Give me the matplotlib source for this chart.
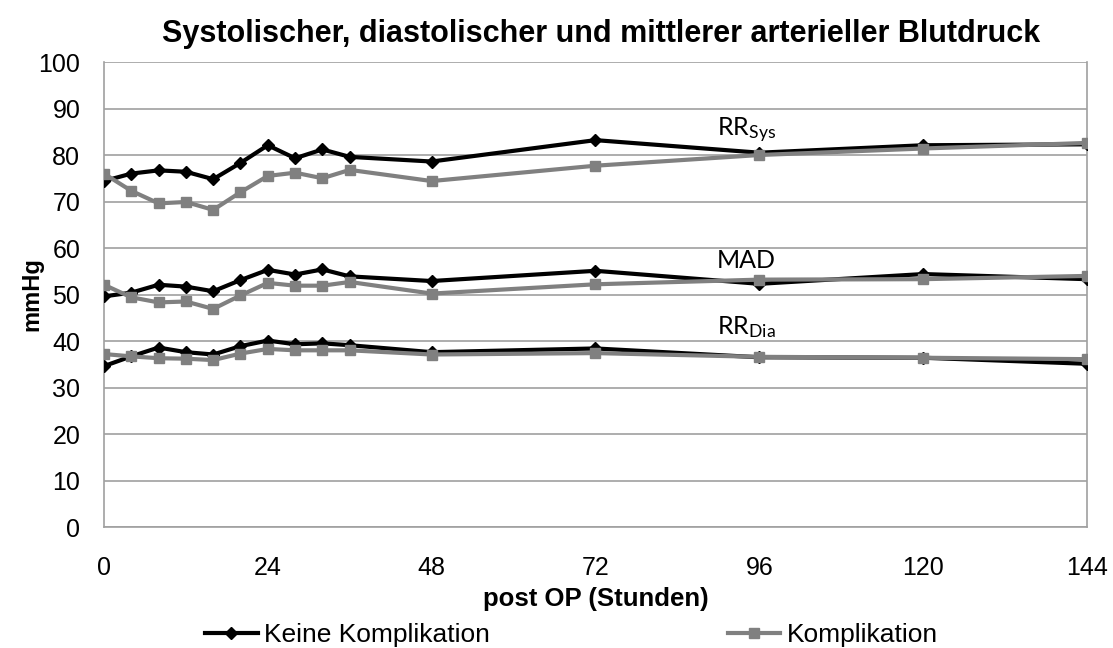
import matplotlib
matplotlib.use("Agg")
import matplotlib.pyplot as plt

hours = [0, 4, 8, 12, 16, 20, 24, 28, 32, 36, 48, 72, 96, 120, 144]

sys_keine = [74.4, 76.0, 76.7, 76.4, 74.8, 78.3, 82.1, 79.3, 81.2, 79.6, 78.6, 83.2, 80.5, 82.1, 82.3]
sys_kompl = [76.0, 72.3, 69.6, 69.9, 68.2, 72.0, 75.5, 76.2, 75.0, 76.8, 74.4, 77.7, 80.0, 81.4, 82.6]
mad_keine = [49.6, 50.4, 52.1, 51.7, 50.7, 53.1, 55.3, 54.3, 55.4, 53.9, 52.9, 55.1, 52.3, 54.4, 53.3]
mad_kompl = [52.1, 49.4, 48.3, 48.5, 46.9, 49.8, 52.5, 51.9, 51.9, 52.7, 50.2, 52.2, 53.2, 53.3, 54.0]
dia_keine = [34.6, 36.7, 38.6, 37.6, 37.1, 38.9, 40.1, 39.3, 39.5, 39.1, 37.6, 38.4, 36.5, 36.4, 35.1]
dia_kompl = [37.2, 36.7, 36.3, 36.2, 35.9, 37.3, 38.3, 38.0, 38.0, 38.0, 37.1, 37.4, 36.6, 36.4, 36.1]

xticks = [0, 24, 48, 72, 96, 120, 144]
yticks = list(range(0, 101, 10))

plt.rcParams['font.family'] = ['Liberation Sans', 'DejaVu Sans']
plt.rcParams['mathtext.fontset'] = 'custom'
plt.rcParams['mathtext.rm'] = 'Lato'
plt.rcParams['mathtext.it'] = 'Lato'

fig = plt.figure(figsize=(11.13, 6.48), dpi=100)
ax = fig.add_axes([0.0934, 0.1867, 0.8832, 0.7176])

black_kw = dict(color='black', lw=3, marker='D', markersize=6.5, zorder=3)
gray_kw = dict(color='#808080', lw=3, marker='s', markersize=7, zorder=4)

l1, = ax.plot(hours, sys_keine, label='Keine Komplikation', **black_kw)
ax.plot(hours, mad_keine, **black_kw)
ax.plot(hours, dia_keine, **black_kw)
l2, = ax.plot(hours, sys_kompl, label='Komplikation', **gray_kw)
ax.plot(hours, mad_kompl, **gray_kw)
ax.plot(hours, dia_kompl, **gray_kw)

ax.set_xlim(0, 144)
ax.set_ylim(0, 100)
ax.set_xticks(xticks)
ax.set_yticks(yticks)
ax.grid(axis='y', color='#a0a0a0', lw=1.2)
ax.set_axisbelow(True)
ax.spines['top'].set_visible(False)
for s in ['left', 'right', 'bottom']:
    ax.spines[s].set_color('#a0a0a0')
    ax.spines[s].set_linewidth(1.2)
ax.tick_params(axis='both', labelsize=18, length=0)
ax.tick_params(axis='x', pad=21)
ax.tick_params(axis='y', pad=17)

ax.set_xlabel('post OP (Stunden)', fontsize=18.5, fontweight='bold', va='top')
ax.xaxis.set_label_coords(0.5, -0.128)
ax.set_ylabel('mmHg', fontsize=17, fontweight='bold')
ax.yaxis.set_label_coords(-0.062, 0.5)

fig.text(0.540, 0.947, 'Systolischer, diastolischer und mittlerer arterieller Blutdruck',
         fontsize=22, fontweight='bold', ha='center', va='center')

ann_kw = dict(fontsize=18, ha='center', va='center', family=['Lato', 'DejaVu Sans'])
ax.text(94.1, 85.2, r'RR$_{\mathrm{Sys}}$', **ann_kw)
ax.text(94.1, 57.4, 'MAD', **ann_kw)
ax.text(94.1, 42.9, r'RR$_{\mathrm{Dia}}$', **ann_kw)

fig.legend(handles=[l1, l2], loc='center', bbox_to_anchor=(0.5135, 0.020),
           ncol=2, frameon=False, fontsize=19, columnspacing=9.0,
           handlelength=2.0, handletextpad=0.25, borderpad=0.2)

fig.savefig('out.png', dpi=100)
